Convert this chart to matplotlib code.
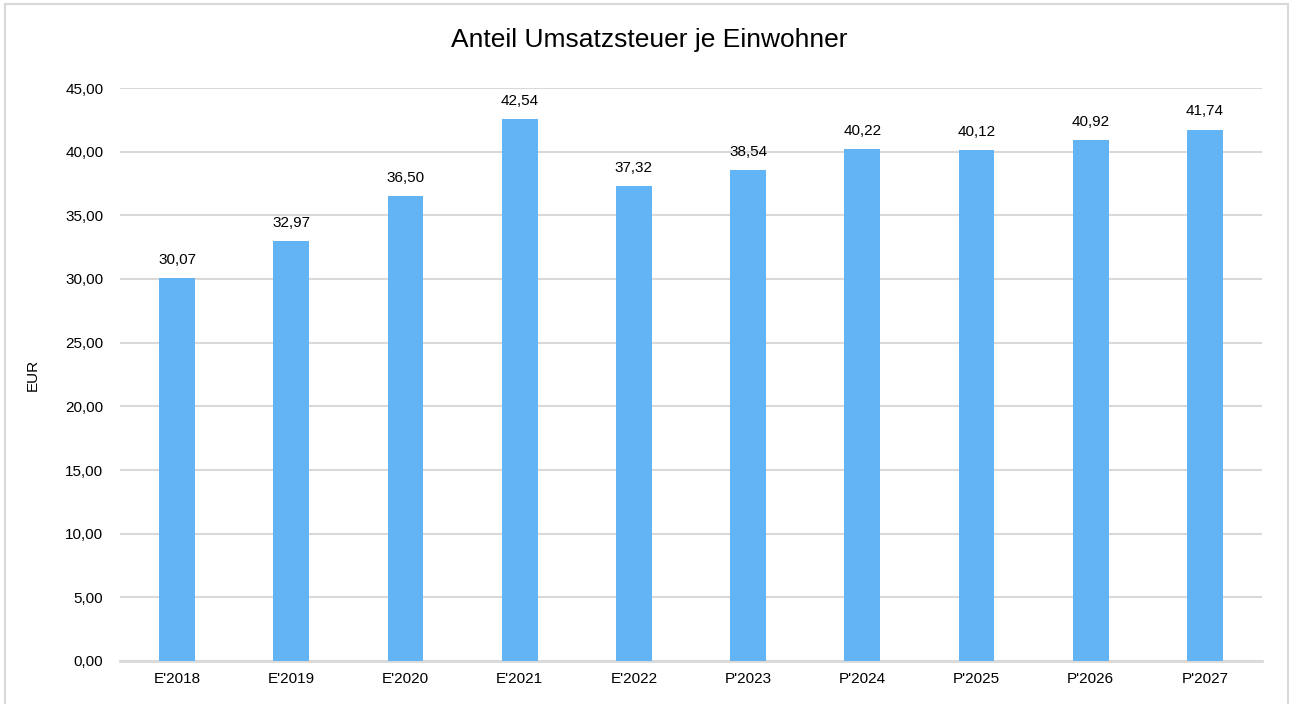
import matplotlib
matplotlib.use("Agg")
import matplotlib.pyplot as plt
from matplotlib.patches import Rectangle

categories = ["E'2018", "E'2019", "E'2020", "E'2021", "E'2022", "P'2023", "P'2024", "P'2025", "P'2026", "P'2027"]
values = [30.07, 32.97, 36.50, 42.54, 37.32, 38.54, 40.22, 40.12, 40.92, 41.74]
yticks = [0, 5, 10, 15, 20, 25, 30, 35, 40, 45]

plt.rcParams['font.family'] = ['Liberation Sans', 'DejaVu Sans']

def de(v):
    return f"{v:.2f}".replace(".", ",")

fig = plt.figure(figsize=(12.92, 7.04), dpi=100)
fig.patches.append(Rectangle((5/1292, -0.05), 1283/1292, 1.05 - 4/704, transform=fig.transFigure,
                             fill=False, edgecolor="#D9D9D9", linewidth=1.5))
ax = fig.add_axes([120/1292, 43/704, 1142/1292, 573/704])
x = range(len(categories))
ax.bar(x, values, width=0.315, color="#63B4F5", zorder=3)
for xi, v in zip(x, values):
    ax.annotate(de(v), (xi, v), xytext=(0, 8), textcoords="offset points",
                ha="center", va="bottom", fontsize=11, color="#000000")
ax.set_xlim(-0.5, len(categories) - 0.5)
ax.set_ylim(0, 45)
ax.set_yticks(yticks)
ax.set_yticklabels([de(t) for t in yticks], fontsize=11)
ax.set_xticks(list(x))
ax.set_xticklabels(categories, fontsize=11)
ax.tick_params(length=0, pad=12)
ax.tick_params(axis="x", pad=8)
ax.grid(axis="y", color="#D9D9D9", linewidth=1.5, zorder=0)
for s in ["top", "right", "left"]:
    ax.spines[s].set_visible(False)
ax.spines["bottom"].set_color("#D9D9D9")
ax.spines["bottom"].set_linewidth(2)
ax.set_ylabel("EUR", fontsize=11, labelpad=18)
fig.text(649/1292, 1 - 40/704, "Anteil Umsatzsteuer je Einwohner", ha="center", va="center", fontsize=19)
fig.savefig("out.png", dpi=100)
